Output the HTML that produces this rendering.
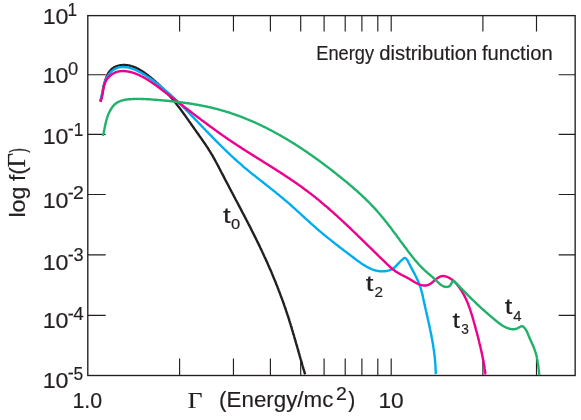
<!DOCTYPE html>
<html><head><meta charset="utf-8"><title>Energy distribution function</title>
<style>html,body{margin:0;padding:0;background:#fff}svg{display:block}</style></head>
<body><svg style="will-change:transform" width="581" height="420" viewBox="0 0 581 420">
<rect width="581" height="420" fill="#fff"/>
<rect x="87.8" y="15.62" width="487.35" height="359.88" fill="none" stroke="#231f20" stroke-width="1.36"/>
<path d="M179.6 15.02V31.52M179.6 376.1V358.6M233.45 15.02V31.52M233.45 376.1V358.6M270.4 15.02V31.52M270.4 376.1V358.6M300.7 15.02V31.52M300.7 376.1V358.6M324.1 15.02V31.52M324.1 376.1V358.6M345.2 15.02V31.52M345.2 376.1V358.6M361.9 15.02V31.52M361.9 376.1V358.6M377.8 15.02V31.52M377.8 376.1V358.6M391.2 15.02V31.52M391.2 376.1V358.6M482.9 15.02V31.52M482.9 376.1V358.6M536.5 15.02V31.52M536.5 376.1V358.6M87.8 74.7H105.69999999999999M575.15 74.7H558.65M87.8 134.3H105.69999999999999M575.15 134.3H558.65M87.8 194.5H105.69999999999999M575.15 194.5H558.65M87.8 254.9H105.69999999999999M575.15 254.9H558.65M87.8 315.3H105.69999999999999M575.15 315.3H558.65" fill="none" stroke="#231f20" stroke-width="1.15"/>
<path d="M100.3 101.4L100.5 100.7L100.7 100.0L101.0 99.4L101.1 98.6L101.3 97.9L101.5 97.2L101.7 96.5L101.8 95.8L102.0 95.0L102.1 94.3L102.3 93.5L102.4 92.8L102.6 92.0L102.7 91.3L102.9 90.5L103.0 89.8L103.1 89.0L103.3 88.2L103.4 87.5L103.6 86.7L103.8 85.9L103.9 85.1L104.1 84.4L104.3 83.6L104.5 82.8L104.7 82.1L104.9 81.3L105.2 80.5L105.4 79.7L105.7 79.0L106.0 78.2L106.2 77.5L106.6 76.7L106.9 76.0L107.2 75.3L107.6 74.6L107.9 73.9L108.3 73.2L108.7 72.6L109.2 72.0L109.6 71.3L110.1 70.8L110.6 70.2L111.1 69.7L111.6 69.2L112.2 68.7L112.7 68.3L113.3 67.9L113.9 67.5L114.5 67.1L115.2 66.8L115.8 66.5L116.5 66.3L117.2 66.0L117.9 65.8L118.6 65.6L119.3 65.5L120.0 65.3L120.7 65.2L121.5 65.1L122.2 65.1L123.0 65.0L123.7 65.0L124.5 65.0L125.2 65.0L126.0 65.1L126.8 65.2L127.5 65.3L128.3 65.4L129.0 65.5L129.8 65.7L130.6 65.9L131.3 66.1L132.1 66.3L132.8 66.5L133.5 66.8L134.2 67.0L135.0 67.3L135.7 67.6L136.4 68.0L137.1 68.3L137.8 68.6L138.5 69.0L139.1 69.4L139.8 69.8L140.5 70.2L141.1 70.6L141.8 71.0L142.5 71.4L143.1 71.8L143.8 72.3L144.4 72.7L145.0 73.2L145.7 73.6L146.3 74.1L146.9 74.6L147.5 75.0L148.2 75.5L148.8 76.0L149.4 76.5L150.0 76.9L150.6 77.4L151.2 77.9L151.8 78.4L152.4 78.9L153.0 79.4L153.5 79.9L154.1 80.4L154.7 80.9L155.3 81.4L155.9 81.9L156.4 82.4L157.0 82.9L157.6 83.4L158.1 83.9L158.7 84.5L159.2 85.0L159.8 85.5L160.3 86.0L160.9 86.6L161.4 87.1L162.0 87.6L162.5 88.2L163.0 88.7L163.6 89.2L164.1 89.8L164.6 90.3L165.1 90.9L165.7 91.4L166.2 92.0L166.7 92.5L167.2 93.1L167.7 93.7L168.2 94.2L168.7 94.8L169.2 95.3L169.7 95.9L170.2 96.5L170.7 97.1L171.2 97.6L171.7 98.2L172.2 98.8L172.7 99.4L173.2 100.0L173.7 100.5L174.1 101.1L174.6 101.7L175.1 102.3L175.6 102.9L176.1 103.5L176.5 104.1L177.0 104.7L177.5 105.3L177.9 105.9L178.4 106.5L178.9 107.1L179.3 107.7L179.8 108.3L180.3 108.9L180.7 109.6L181.2 110.2L181.6 110.8L182.1 111.4L182.5 112.0L183.0 112.6L183.4 113.3L183.9 113.9L184.3 114.5L184.8 115.1L185.2 115.7L185.7 116.4L186.1 117.0L186.6 117.6L187.0 118.2L187.5 118.9L187.9 119.5L188.4 120.1L188.8 120.8L189.2 121.4L189.7 122.0L190.1 122.6L190.6 123.3L191.0 123.9L191.4 124.5L191.9 125.2L192.3 125.8L192.8 126.4L193.2 127.0L193.7 127.7L194.1 128.3L194.5 128.9L195.0 129.5L195.4 130.2L195.9 130.8L196.3 131.4L196.7 132.0L197.2 132.7L197.6 133.3L198.1 133.9L198.5 134.5L199.0 135.2L199.4 135.8L199.8 136.4L200.3 137.0L200.7 137.7L201.2 138.3L201.6 138.9L202.0 139.5L202.5 140.2L202.9 140.8L203.3 141.4L203.8 142.0L204.2 142.7L204.6 143.3L205.1 143.9L205.5 144.5L205.9 145.2L206.3 145.8L206.7 146.4L207.2 147.1L207.6 147.7L208.0 148.4L208.4 149.0L208.8 149.6L209.2 150.3L209.6 150.9L210.0 151.6L210.4 152.2L210.8 152.9L211.2 153.5L211.6 154.2L212.0 154.8L212.4 155.5L212.8 156.1L213.1 156.8L213.5 157.5L213.9 158.1L214.3 158.8L214.6 159.5L215.0 160.1L215.4 160.8L215.7 161.5L216.1 162.2L216.5 162.8L216.8 163.5L217.2 164.2L217.5 164.9L217.9 165.5L218.3 166.2L218.6 166.9L219.0 167.6L219.3 168.3L219.7 168.9L220.0 169.6L220.4 170.3L220.7 171.0L221.1 171.7L221.4 172.3L221.8 173.0L222.1 173.7L222.5 174.4L222.9 175.1L223.2 175.7L223.6 176.4L223.9 177.1L224.3 177.8L224.6 178.5L225.0 179.1L225.3 179.8L225.7 180.5L226.0 181.2L226.4 181.9L226.7 182.5L227.1 183.2L227.5 183.9L227.8 184.6L228.2 185.2L228.5 185.9L228.9 186.6L229.2 187.3L229.6 188.0L230.0 188.6L230.3 189.3L230.7 190.0L231.0 190.7L231.4 191.3L231.7 192.0L232.1 192.7L232.5 193.4L232.8 194.0L233.2 194.7L233.5 195.4L233.9 196.1L234.2 196.8L234.6 197.4L235.0 198.1L235.3 198.8L235.7 199.5L236.0 200.1L236.4 200.8L236.7 201.5L237.1 202.2L237.5 202.8L237.8 203.5L238.2 204.2L238.5 204.9L238.9 205.5L239.2 206.2L239.6 206.9L239.9 207.6L240.3 208.2L240.7 208.9L241.0 209.6L241.4 210.3L241.7 211.0L242.1 211.6L242.4 212.3L242.8 213.0L243.1 213.7L243.5 214.3L243.9 215.0L244.2 215.7L244.6 216.4L244.9 217.0L245.3 217.7L245.6 218.4L246.0 219.1L246.3 219.8L246.7 220.4L247.0 221.1L247.4 221.8L247.7 222.5L248.1 223.2L248.4 223.8L248.8 224.5L249.1 225.2L249.5 225.9L249.8 226.5L250.2 227.2L250.5 227.9L250.9 228.6L251.2 229.3L251.5 230.0L251.9 230.6L252.2 231.3L252.6 232.0L252.9 232.7L253.3 233.4L253.6 234.0L253.9 234.7L254.3 235.4L254.6 236.1L255.0 236.8L255.3 237.5L255.7 238.1L256.0 238.8L256.3 239.5L256.7 240.2L257.0 240.9L257.3 241.6L257.7 242.3L258.0 242.9L258.3 243.6L258.7 244.3L259.0 245.0L259.3 245.7L259.7 246.4L260.0 247.1L260.3 247.8L260.7 248.5L261.0 249.1L261.3 249.8L261.6 250.5L262.0 251.2L262.3 251.9L262.6 252.6L262.9 253.3L263.3 254.0L263.6 254.7L263.9 255.4L264.2 256.1L264.5 256.8L264.9 257.5L265.2 258.1L265.5 258.8L265.8 259.5L266.1 260.2L266.4 260.9L266.8 261.6L267.1 262.3L267.4 263.0L267.7 263.7L268.0 264.4L268.3 265.1L268.6 265.8L268.9 266.5L269.2 267.2L269.5 267.9L269.8 268.6L270.2 269.3L270.5 270.0L270.8 270.7L271.1 271.4L271.4 272.1L271.7 272.8L272.0 273.6L272.3 274.3L272.6 275.0L272.9 275.7L273.1 276.4L273.4 277.1L273.7 277.8L274.0 278.5L274.3 279.2L274.6 279.9L274.9 280.6L275.2 281.3L275.5 282.0L275.8 282.7L276.0 283.5L276.3 284.2L276.6 284.9L276.9 285.6L277.2 286.3L277.5 287.0L277.7 287.7L278.0 288.4L278.3 289.1L278.6 289.9L278.8 290.6L279.1 291.3L279.4 292.0L279.7 292.7L279.9 293.4L280.2 294.1L280.5 294.9L280.7 295.6L281.0 296.3L281.3 297.0L281.5 297.7L281.8 298.4L282.1 299.2L282.3 299.9L282.6 300.6L282.9 301.3L283.1 302.0L283.4 302.8L283.6 303.5L283.9 304.2L284.1 304.9L284.4 305.6L284.6 306.4L284.9 307.1L285.1 307.8L285.4 308.5L285.6 309.3L285.9 310.0L286.1 310.7L286.4 311.4L286.6 312.2L286.9 312.9L287.1 313.6L287.3 314.3L287.6 315.1L287.8 315.8L288.1 316.5L288.3 317.2L288.5 318.0L288.8 318.7L289.0 319.4L289.2 320.1L289.4 320.9L289.7 321.6L289.9 322.3L290.1 323.1L290.4 323.8L290.6 324.5L290.8 325.3L291.0 326.0L291.3 326.7L291.5 327.4L291.7 328.2L291.9 328.9L292.1 329.6L292.4 330.4L292.6 331.1L292.8 331.8L293.0 332.6L293.2 333.3L293.4 334.0L293.7 334.8L293.9 335.5L294.1 336.2L294.3 337.0L294.5 337.7L294.7 338.4L294.9 339.2L295.2 339.9L295.4 340.6L295.6 341.4L295.8 342.1L296.0 342.8L296.2 343.6L296.4 344.3L296.6 345.0L296.9 345.8L297.1 346.5L297.3 347.2L297.5 348.0L297.7 348.7L297.9 349.4L298.1 350.2L298.3 350.9L298.5 351.7L298.7 352.4L299.0 353.1L299.2 353.9L299.4 354.6L299.6 355.3L299.8 356.1L300.0 356.8L300.2 357.5L300.4 358.3L300.6 359.0L300.8 359.7L301.1 360.5L301.3 361.2L301.5 361.9L301.7 362.7L301.9 363.4L302.1 364.1L302.3 364.9L302.5 365.6L302.8 366.3L303.0 367.1L303.2 367.8L303.4 368.6L303.6 369.3L303.8 370.0L304.1 370.8L304.3 371.5L304.5 372.2L304.7 372.9L304.9 373.7L305.2 374.4" fill="none" stroke="#231f20" stroke-width="2.4" stroke-linejoin="round" stroke-linecap="butt"/>
<path d="M100.2 101.6L100.4 100.8L100.7 100.1L100.9 99.3L101.1 98.5L101.3 97.7L101.5 97.0L101.6 96.2L101.8 95.4L102.0 94.7L102.1 93.9L102.2 93.1L102.4 92.3L102.5 91.6L102.7 90.8L102.8 90.1L102.9 89.3L103.1 88.5L103.2 87.8L103.4 87.0L103.6 86.3L103.8 85.5L104.0 84.8L104.2 84.0L104.4 83.3L104.7 82.5L104.9 81.8L105.2 81.0L105.5 80.3L105.9 79.5L106.2 78.8L106.6 78.1L107.0 77.4L107.4 76.7L107.8 76.0L108.2 75.3L108.7 74.7L109.2 74.0L109.7 73.4L110.2 72.8L110.8 72.2L111.3 71.7L111.9 71.1L112.5 70.6L113.1 70.2L113.7 69.7L114.4 69.3L115.0 68.9L115.7 68.6L116.4 68.3L117.1 68.0L117.8 67.7L118.6 67.5L119.3 67.4L120.1 67.2L120.8 67.1L121.6 67.1L122.4 67.0L123.2 67.0L124.0 67.0L124.8 67.1L125.6 67.2L126.4 67.3L127.2 67.4L128.0 67.5L128.8 67.7L129.6 67.9L130.4 68.1L131.1 68.3L131.9 68.6L132.7 68.8L133.4 69.1L134.2 69.4L134.9 69.7L135.7 70.0L136.4 70.3L137.1 70.7L137.8 71.0L138.5 71.4L139.2 71.8L139.9 72.1L140.6 72.5L141.3 72.9L142.0 73.3L142.6 73.7L143.3 74.1L144.0 74.5L144.7 74.9L145.3 75.3L146.0 75.8L146.7 76.2L147.3 76.6L148.0 77.0L148.6 77.5L149.3 77.9L149.9 78.4L150.6 78.8L151.2 79.2L151.9 79.7L152.5 80.1L153.1 80.6L153.8 81.1L154.4 81.5L155.0 82.0L155.7 82.4L156.3 82.9L156.9 83.4L157.5 83.9L158.1 84.3L158.8 84.8L159.4 85.3L160.0 85.8L160.6 86.3L161.2 86.8L161.8 87.3L162.4 87.8L163.0 88.3L163.6 88.8L164.2 89.3L164.8 89.8L165.4 90.3L166.0 90.8L166.6 91.3L167.2 91.8L167.8 92.4L168.4 92.9L169.0 93.4L169.5 93.9L170.1 94.5L170.7 95.0L171.3 95.5L171.9 96.1L172.4 96.6L173.0 97.1L173.6 97.7L174.2 98.2L174.7 98.7L175.3 99.3L175.9 99.8L176.4 100.4L177.0 100.9L177.6 101.5L178.1 102.0L178.7 102.6L179.3 103.1L179.8 103.7L180.4 104.2L180.9 104.8L181.5 105.3L182.1 105.9L182.6 106.4L183.2 107.0L183.7 107.6L184.3 108.1L184.8 108.7L185.4 109.2L185.9 109.8L186.5 110.4L187.0 110.9L187.6 111.5L188.1 112.1L188.7 112.6L189.3 113.2L189.8 113.8L190.3 114.3L190.9 114.9L191.4 115.5L192.0 116.0L192.5 116.6L193.1 117.2L193.6 117.7L194.2 118.3L194.7 118.9L195.3 119.4L195.8 120.0L196.4 120.6L196.9 121.2L197.5 121.7L198.0 122.3L198.6 122.9L199.1 123.4L199.7 124.0L200.2 124.6L200.8 125.1L201.3 125.7L201.9 126.3L202.4 126.8L202.9 127.4L203.5 128.0L204.0 128.6L204.6 129.1L205.1 129.7L205.7 130.3L206.2 130.8L206.8 131.4L207.3 132.0L207.9 132.5L208.4 133.1L209.0 133.7L209.5 134.2L210.1 134.8L210.6 135.4L211.2 135.9L211.7 136.5L212.3 137.0L212.8 137.6L213.4 138.2L213.9 138.7L214.5 139.3L215.0 139.9L215.6 140.4L216.1 141.0L216.7 141.5L217.3 142.1L217.8 142.6L218.4 143.2L218.9 143.8L219.5 144.3L220.0 144.9L220.6 145.4L221.2 146.0L221.7 146.5L222.3 147.1L222.8 147.6L223.4 148.2L224.0 148.7L224.5 149.3L225.1 149.8L225.7 150.4L226.2 150.9L226.8 151.5L227.4 152.0L227.9 152.6L228.5 153.1L229.1 153.6L229.6 154.2L230.2 154.7L230.8 155.3L231.4 155.8L231.9 156.3L232.5 156.9L233.1 157.4L233.7 157.9L234.2 158.5L234.8 159.0L235.4 159.5L236.0 160.0L236.6 160.6L237.1 161.1L237.7 161.6L238.3 162.1L238.9 162.7L239.5 163.2L240.1 163.7L240.7 164.2L241.3 164.7L241.9 165.2L242.5 165.8L243.1 166.3L243.6 166.8L244.2 167.3L244.8 167.8L245.4 168.3L246.0 168.8L246.7 169.3L247.3 169.8L247.9 170.3L248.5 170.8L249.1 171.3L249.7 171.8L250.3 172.3L250.9 172.8L251.5 173.3L252.1 173.8L252.7 174.3L253.3 174.7L254.0 175.2L254.6 175.7L255.2 176.2L255.8 176.7L256.4 177.2L257.0 177.7L257.7 178.2L258.3 178.6L258.9 179.1L259.5 179.6L260.1 180.1L260.7 180.6L261.4 181.1L262.0 181.6L262.6 182.0L263.2 182.5L263.8 183.0L264.5 183.5L265.1 184.0L265.7 184.5L266.3 184.9L266.9 185.4L267.6 185.9L268.2 186.4L268.8 186.9L269.4 187.4L270.0 187.9L270.7 188.4L271.3 188.8L271.9 189.3L272.5 189.8L273.1 190.3L273.7 190.8L274.4 191.3L275.0 191.8L275.6 192.3L276.2 192.8L276.8 193.3L277.4 193.8L278.0 194.3L278.7 194.8L279.3 195.3L279.9 195.8L280.5 196.3L281.1 196.8L281.7 197.3L282.3 197.8L282.9 198.3L283.5 198.8L284.1 199.3L284.7 199.8L285.3 200.3L285.9 200.8L286.5 201.3L287.1 201.9L287.7 202.4L288.3 202.9L288.9 203.4L289.5 203.9L290.1 204.5L290.7 205.0L291.3 205.5L291.9 206.0L292.5 206.6L293.0 207.1L293.6 207.6L294.2 208.2L294.8 208.7L295.4 209.2L296.0 209.8L296.6 210.3L297.1 210.8L297.7 211.3L298.3 211.9L298.9 212.4L299.5 212.9L300.1 213.5L300.6 214.0L301.2 214.6L301.8 215.1L302.4 215.6L303.0 216.2L303.6 216.7L304.1 217.2L304.7 217.8L305.3 218.3L305.9 218.8L306.5 219.4L307.1 219.9L307.6 220.4L308.2 220.9L308.8 221.5L309.4 222.0L310.0 222.5L310.6 223.1L311.1 223.6L311.7 224.1L312.3 224.6L312.9 225.1L313.5 225.7L314.1 226.2L314.7 226.7L315.2 227.2L315.8 227.7L316.4 228.3L317.0 228.8L317.6 229.3L318.2 229.8L318.8 230.3L319.4 230.8L320.0 231.3L320.6 231.8L321.2 232.3L321.8 232.8L322.4 233.3L323.0 233.8L323.6 234.3L324.2 234.8L324.8 235.3L325.4 235.8L326.0 236.3L326.6 236.8L327.2 237.3L327.8 237.8L328.4 238.3L329.0 238.7L329.6 239.2L330.2 239.7L330.8 240.2L331.4 240.7L332.0 241.2L332.6 241.7L333.2 242.1L333.9 242.6L334.5 243.1L335.1 243.6L335.7 244.1L336.3 244.6L336.9 245.0L337.6 245.5L338.2 246.0L338.8 246.5L339.4 247.0L340.0 247.4L340.7 247.9L341.3 248.4L341.9 248.9L342.5 249.3L343.2 249.8L343.8 250.3L344.4 250.8L345.0 251.3L345.7 251.7L346.3 252.2L346.9 252.7L347.6 253.2L348.2 253.7L348.8 254.1L349.5 254.6L350.1 255.1L350.8 255.6L351.4 256.1L352.0 256.5L352.7 257.0L353.3 257.5L354.0 258.0L354.6 258.5L355.3 259.0L355.9 259.4L356.6 259.9L357.2 260.4L357.9 260.9L358.5 261.4L359.2 261.8L359.8 262.3L360.5 262.8L361.1 263.2L361.8 263.7L362.5 264.1L363.1 264.6L363.8 265.0L364.5 265.4L365.2 265.8L365.9 266.2L366.5 266.6L367.2 267.0L367.9 267.4L368.6 267.7L369.3 268.1L370.0 268.4L370.7 268.7L371.4 269.0L372.1 269.3L372.9 269.6L373.6 269.9L374.3 270.1L375.0 270.3L375.8 270.5L376.5 270.7L377.3 270.9L378.0 271.0L378.8 271.1L379.5 271.2L380.3 271.3L381.1 271.3L381.9 271.4L382.6 271.4L383.4 271.3L384.2 271.3L385.0 271.2L385.8 271.1L386.6 271.0L387.4 270.8L388.1 270.6L388.9 270.4L389.7 270.1L390.4 269.9L391.1 269.6L391.8 269.2L392.5 268.8L393.2 268.4L393.9 268.0L394.5 267.5L395.1 267.0L395.7 266.4L396.2 265.8L396.8 265.2L397.3 264.6L397.8 264.0L398.3 263.4L398.9 262.9L399.4 262.3L400.0 261.8L400.5 261.2L401.1 260.7L401.7 260.2L402.3 259.6L402.9 259.1L403.5 258.6L404.2 258.1L404.8 258.0L405.5 258.2L406.2 258.7L406.7 259.4L407.2 260.0L407.6 260.7L408.0 261.4L408.4 262.1L408.7 262.8L409.1 263.5L409.4 264.2L409.8 264.9L410.2 265.6L410.5 266.3L410.9 267.0L411.3 267.7L411.6 268.4L412.0 269.1L412.4 269.8L412.7 270.4L413.1 271.1L413.5 271.8L413.9 272.5L414.2 273.2L414.6 273.9L415.0 274.6L415.3 275.3L415.7 276.0L416.0 276.7L416.4 277.4L416.7 278.2L417.0 278.9L417.4 279.6L417.7 280.3L418.0 281.0L418.3 281.7L418.6 282.5L418.9 283.2L419.2 283.9L419.5 284.6L419.8 285.4L420.0 286.1L420.3 286.9L420.5 287.6L420.8 288.4L421.0 289.1L421.2 289.9L421.4 290.6L421.6 291.4L421.8 292.1L422.0 292.9L422.2 293.6L422.4 294.4L422.5 295.2L422.7 295.9L422.9 296.7L423.0 297.5L423.2 298.2L423.4 299.0L423.5 299.8L423.7 300.5L423.9 301.3L424.0 302.1L424.2 302.8L424.4 303.6L424.6 304.4L424.7 305.1L424.9 305.9L425.1 306.7L425.2 307.5L425.4 308.2L425.6 309.0L425.8 309.8L425.9 310.5L426.1 311.3L426.3 312.1L426.5 312.8L426.6 313.6L426.8 314.4L427.0 315.1L427.2 315.9L427.3 316.7L427.5 317.4L427.7 318.2L427.8 319.0L428.0 319.7L428.2 320.5L428.4 321.3L428.5 322.0L428.7 322.8L428.9 323.6L429.0 324.4L429.2 325.1L429.4 325.9L429.5 326.7L429.7 327.4L429.9 328.2L430.0 329.0L430.2 329.7L430.3 330.5L430.5 331.3L430.7 332.1L430.8 332.8L431.0 333.6L431.1 334.4L431.3 335.1L431.4 335.9L431.6 336.7L431.7 337.5L431.9 338.2L432.0 339.0L432.1 339.8L432.3 340.6L432.4 341.3L432.6 342.1L432.7 342.9L432.8 343.7L433.0 344.4L433.1 345.2L433.2 346.0L433.3 346.8L433.4 347.5L433.6 348.3L433.7 349.1L433.8 349.9L433.9 350.6L434.0 351.4L434.1 352.2L434.2 353.0L434.3 353.8L434.4 354.5L434.5 355.3L434.6 356.1L434.7 356.9L434.8 357.7L434.9 358.5L434.9 359.2L435.0 360.0L435.1 360.8L435.1 361.6L435.2 362.4L435.3 363.2L435.3 363.9L435.4 364.7L435.4 365.5L435.5 366.3L435.5 367.1L435.6 367.9L435.6 368.7L435.6 369.5L435.7 370.3L435.7 371.0L435.7 371.8L435.7 372.6L435.7 373.4L435.8 374.2" fill="none" stroke="#00aeef" stroke-width="2.4" stroke-linejoin="round" stroke-linecap="butt"/>
<path d="M100.4 101.7L100.7 101.0L101.0 100.3L101.2 99.5L101.5 98.8L101.7 98.0L101.9 97.2L102.0 96.5L102.2 95.7L102.4 94.9L102.5 94.1L102.6 93.3L102.8 92.4L102.9 91.6L103.0 90.8L103.2 90.0L103.3 89.2L103.5 88.4L103.6 87.6L103.8 86.8L104.0 86.0L104.2 85.2L104.5 84.5L104.7 83.7L105.0 82.9L105.3 82.2L105.6 81.5L106.0 80.8L106.4 80.1L106.9 79.4L107.3 78.8L107.8 78.1L108.3 77.5L108.9 76.9L109.5 76.4L110.0 75.8L110.7 75.3L111.3 74.8L111.9 74.3L112.6 73.9L113.3 73.5L114.0 73.1L114.7 72.8L115.4 72.4L116.2 72.1L116.9 71.9L117.7 71.7L118.4 71.5L119.2 71.3L120.0 71.2L120.7 71.1L121.5 71.1L122.3 71.0L123.1 71.0L123.9 71.0L124.7 71.1L125.5 71.2L126.3 71.3L127.1 71.4L127.9 71.5L128.7 71.7L129.5 71.8L130.3 72.0L131.1 72.2L131.9 72.5L132.7 72.7L133.5 72.9L134.3 73.2L135.0 73.5L135.8 73.7L136.5 74.0L137.3 74.3L138.0 74.7L138.8 75.0L139.5 75.3L140.2 75.6L140.9 76.0L141.7 76.4L142.4 76.7L143.1 77.1L143.8 77.5L144.5 77.9L145.2 78.3L145.9 78.7L146.6 79.1L147.2 79.5L147.9 79.9L148.6 80.3L149.3 80.8L149.9 81.2L150.6 81.6L151.3 82.1L151.9 82.5L152.6 83.0L153.2 83.5L153.9 83.9L154.5 84.4L155.2 84.8L155.8 85.3L156.5 85.8L157.1 86.3L157.8 86.7L158.4 87.2L159.1 87.7L159.7 88.2L160.3 88.7L161.0 89.1L161.6 89.6L162.3 90.1L162.9 90.6L163.5 91.1L164.2 91.5L164.8 92.0L165.5 92.5L166.1 93.0L166.7 93.5L167.4 94.0L168.0 94.4L168.7 94.9L169.3 95.4L169.9 95.9L170.6 96.4L171.2 96.9L171.8 97.4L172.5 97.8L173.1 98.3L173.8 98.8L174.4 99.3L175.0 99.8L175.7 100.3L176.3 100.8L176.9 101.3L177.6 101.7L178.2 102.2L178.8 102.7L179.5 103.2L180.1 103.7L180.8 104.2L181.4 104.7L182.0 105.1L182.7 105.6L183.3 106.1L183.9 106.6L184.6 107.1L185.2 107.6L185.8 108.1L186.5 108.6L187.1 109.0L187.8 109.5L188.4 110.0L189.0 110.5L189.7 111.0L190.3 111.5L190.9 112.0L191.6 112.4L192.2 112.9L192.9 113.4L193.5 113.9L194.1 114.4L194.8 114.9L195.4 115.4L196.0 115.8L196.7 116.3L197.3 116.8L198.0 117.3L198.6 117.8L199.2 118.3L199.9 118.7L200.5 119.2L201.2 119.7L201.8 120.2L202.5 120.7L203.1 121.1L203.7 121.6L204.4 122.1L205.0 122.6L205.7 123.1L206.3 123.5L207.0 124.0L207.6 124.5L208.2 125.0L208.9 125.4L209.5 125.9L210.2 126.4L210.8 126.9L211.5 127.3L212.1 127.8L212.8 128.3L213.4 128.7L214.1 129.2L214.7 129.7L215.4 130.2L216.0 130.6L216.7 131.1L217.3 131.6L218.0 132.0L218.6 132.5L219.3 133.0L219.9 133.4L220.6 133.9L221.2 134.3L221.9 134.8L222.5 135.3L223.2 135.7L223.9 136.2L224.5 136.6L225.2 137.1L225.8 137.6L226.5 138.0L227.1 138.5L227.8 138.9L228.5 139.4L229.1 139.8L229.8 140.3L230.5 140.7L231.1 141.2L231.8 141.6L232.5 142.1L233.1 142.5L233.8 143.0L234.5 143.4L235.1 143.8L235.8 144.3L236.5 144.7L237.1 145.2L237.8 145.6L238.5 146.0L239.2 146.5L239.8 146.9L240.5 147.3L241.2 147.8L241.8 148.2L242.5 148.7L243.2 149.1L243.9 149.5L244.6 150.0L245.2 150.4L245.9 150.8L246.6 151.2L247.3 151.7L247.9 152.1L248.6 152.5L249.3 153.0L250.0 153.4L250.7 153.8L251.3 154.3L252.0 154.7L252.7 155.1L253.4 155.5L254.0 156.0L254.7 156.4L255.4 156.8L256.1 157.2L256.8 157.7L257.5 158.1L258.1 158.5L258.8 158.9L259.5 159.4L260.2 159.8L260.9 160.2L261.5 160.6L262.2 161.1L262.9 161.5L263.6 161.9L264.3 162.4L264.9 162.8L265.6 163.2L266.3 163.6L267.0 164.1L267.7 164.5L268.3 164.9L269.0 165.3L269.7 165.8L270.4 166.2L271.1 166.6L271.7 167.0L272.4 167.5L273.1 167.9L273.8 168.3L274.4 168.8L275.1 169.2L275.8 169.6L276.5 170.1L277.2 170.5L277.8 170.9L278.5 171.4L279.2 171.8L279.9 172.2L280.5 172.7L281.2 173.1L281.9 173.5L282.5 174.0L283.2 174.4L283.9 174.8L284.6 175.3L285.2 175.7L285.9 176.2L286.6 176.6L287.2 177.0L287.9 177.5L288.6 177.9L289.2 178.4L289.9 178.8L290.6 179.3L291.2 179.7L291.9 180.2L292.5 180.6L293.2 181.1L293.9 181.5L294.5 182.0L295.2 182.4L295.8 182.9L296.5 183.3L297.2 183.8L297.8 184.3L298.5 184.7L299.1 185.2L299.8 185.6L300.4 186.1L301.1 186.6L301.7 187.0L302.4 187.5L303.0 188.0L303.7 188.5L304.3 188.9L304.9 189.4L305.6 189.9L306.2 190.4L306.9 190.8L307.5 191.3L308.1 191.8L308.8 192.3L309.4 192.8L310.0 193.3L310.7 193.7L311.3 194.2L311.9 194.7L312.6 195.2L313.2 195.7L313.8 196.2L314.5 196.7L315.1 197.2L315.7 197.7L316.3 198.2L316.9 198.7L317.6 199.2L318.2 199.7L318.8 200.2L319.4 200.7L320.0 201.2L320.7 201.7L321.3 202.3L321.9 202.8L322.5 203.3L323.1 203.8L323.7 204.3L324.3 204.8L324.9 205.4L325.6 205.9L326.2 206.4L326.8 206.9L327.4 207.4L328.0 208.0L328.6 208.5L329.2 209.0L329.8 209.5L330.4 210.1L331.0 210.6L331.6 211.1L332.2 211.7L332.8 212.2L333.4 212.7L334.0 213.3L334.6 213.8L335.2 214.3L335.8 214.9L336.4 215.4L337.0 215.9L337.6 216.5L338.1 217.0L338.7 217.6L339.3 218.1L339.9 218.7L340.5 219.2L341.1 219.7L341.7 220.3L342.3 220.8L342.9 221.4L343.5 221.9L344.0 222.5L344.6 223.0L345.2 223.6L345.8 224.1L346.4 224.7L347.0 225.2L347.6 225.8L348.1 226.3L348.7 226.9L349.3 227.4L349.9 228.0L350.5 228.5L351.0 229.1L351.6 229.6L352.2 230.2L352.8 230.8L353.4 231.3L353.9 231.9L354.5 232.4L355.1 233.0L355.7 233.5L356.3 234.1L356.8 234.7L357.4 235.2L358.0 235.8L358.6 236.3L359.1 236.9L359.7 237.5L360.3 238.0L360.9 238.6L361.4 239.1L362.0 239.7L362.6 240.3L363.2 240.8L363.7 241.4L364.3 241.9L364.9 242.5L365.5 243.1L366.0 243.6L366.6 244.2L367.2 244.8L367.8 245.3L368.3 245.9L368.9 246.4L369.5 247.0L370.1 247.6L370.6 248.1L371.2 248.7L371.8 249.2L372.4 249.8L372.9 250.4L373.5 250.9L374.1 251.5L374.7 252.1L375.2 252.6L375.8 253.2L376.4 253.7L377.0 254.3L377.5 254.9L378.1 255.4L378.7 256.0L379.2 256.5L379.8 257.1L380.4 257.7L381.0 258.2L381.5 258.8L382.1 259.3L382.7 259.9L383.3 260.4L383.9 261.0L384.4 261.6L385.0 262.1L385.6 262.7L386.2 263.2L386.7 263.8L387.3 264.3L387.9 264.9L388.5 265.4L389.0 266.0L389.6 266.5L390.2 267.1L390.8 267.6L391.4 268.1L392.0 268.7L392.6 269.2L393.2 269.7L393.8 270.1L394.5 270.6L395.1 271.1L395.8 271.5L396.4 271.9L397.1 272.3L397.8 272.7L398.4 273.1L399.1 273.5L399.8 273.9L400.5 274.3L401.2 274.6L401.9 275.0L402.7 275.4L403.4 275.7L404.1 276.1L404.8 276.5L405.5 276.8L406.3 277.2L407.0 277.6L407.7 278.0L408.4 278.4L409.2 278.8L409.9 279.3L410.6 279.7L411.3 280.1L412.0 280.6L412.8 281.0L413.5 281.5L414.2 281.9L414.9 282.3L415.7 282.7L416.4 283.1L417.1 283.4L417.9 283.8L418.6 284.1L419.3 284.4L420.1 284.7L420.8 284.9L421.6 285.1L422.3 285.3L423.1 285.4L423.8 285.5L424.5 285.5L425.3 285.5L426.0 285.5L426.7 285.3L427.4 285.2L428.1 285.0L428.8 284.7L429.5 284.3L430.2 283.9L430.8 283.5L431.5 283.0L432.1 282.5L432.8 281.9L433.4 281.4L434.0 280.8L434.7 280.2L435.3 279.7L436.0 279.2L436.7 278.7L437.3 278.2L438.0 277.8L438.7 277.4L439.4 277.0L440.1 276.7L440.8 276.4L441.5 276.2L442.3 276.1L443.0 276.0L443.7 276.0L444.5 276.1L445.2 276.3L445.9 276.5L446.7 276.7L447.4 277.0L448.1 277.3L448.8 277.6L449.5 278.0L450.2 278.4L450.9 278.9L451.5 279.3L452.1 279.8L452.8 280.3L453.4 280.8L454.0 281.3L454.6 281.9L455.2 282.5L455.7 283.0L456.3 283.6L456.8 284.3L457.4 284.9L457.9 285.5L458.4 286.2L458.9 286.9L459.4 287.5L459.8 288.2L460.3 288.9L460.8 289.6L461.2 290.3L461.7 291.0L462.1 291.7L462.5 292.4L462.9 293.1L463.3 293.8L463.7 294.5L464.1 295.2L464.4 295.9L464.8 296.7L465.2 297.4L465.5 298.1L465.9 298.8L466.2 299.5L466.5 300.3L466.8 301.0L467.2 301.7L467.5 302.5L467.8 303.2L468.1 303.9L468.3 304.7L468.6 305.4L468.9 306.1L469.2 306.9L469.5 307.6L469.7 308.4L470.0 309.1L470.2 309.9L470.5 310.6L470.7 311.4L471.0 312.1L471.2 312.9L471.4 313.6L471.7 314.4L471.9 315.2L472.1 315.9L472.4 316.7L472.6 317.4L472.8 318.2L473.0 319.0L473.3 319.7L473.5 320.5L473.7 321.3L473.9 322.0L474.1 322.8L474.3 323.6L474.6 324.3L474.8 325.1L475.0 325.9L475.2 326.7L475.4 327.4L475.6 328.2L475.8 329.0L476.0 329.8L476.2 330.5L476.5 331.3L476.7 332.1L476.9 332.9L477.1 333.6L477.3 334.4L477.5 335.2L477.7 336.0L477.9 336.8L478.1 337.5L478.3 338.3L478.5 339.1L478.7 339.9L478.9 340.7L479.1 341.5L479.3 342.2L479.4 343.0L479.6 343.8L479.8 344.6L480.0 345.4L480.2 346.2L480.4 346.9L480.6 347.7L480.7 348.5L480.9 349.3L481.1 350.1L481.3 350.9L481.4 351.7L481.6 352.4L481.8 353.2L482.0 354.0L482.1 354.8L482.3 355.6L482.4 356.4L482.6 357.2L482.8 358.0L482.9 358.8L483.1 359.5L483.2 360.3L483.4 361.1L483.5 361.9L483.7 362.7L483.8 363.5L483.9 364.3L484.1 365.1L484.2 365.8L484.4 366.6L484.5 367.4L484.6 368.2L484.7 369.0L484.9 369.8L485.0 370.6L485.1 371.4L485.2 372.1L485.3 372.9L485.4 373.7L485.6 374.5" fill="none" stroke="#ec008c" stroke-width="2.4" stroke-linejoin="round" stroke-linecap="butt"/>
<path d="M102.9 135.8L103.1 135.1L103.2 134.5L103.4 133.8L103.5 133.2L103.7 132.5L103.8 131.9L104.0 131.2L104.1 130.6L104.2 129.9L104.4 129.3L104.5 128.7L104.6 128.1L104.7 127.4L104.9 126.8L105.0 126.2L105.1 125.6L105.3 124.9L105.4 124.3L105.5 123.7L105.7 123.1L105.8 122.5L106.0 121.9L106.1 121.2L106.3 120.6L106.5 120.0L106.6 119.4L106.8 118.8L107.0 118.1L107.2 117.5L107.4 116.9L107.6 116.3L107.9 115.6L108.1 115.0L108.3 114.4L108.6 113.8L108.9 113.1L109.2 112.5L109.5 111.9L109.8 111.3L110.1 110.7L110.4 110.1L110.7 109.5L111.1 108.9L111.5 108.4L111.8 107.8L112.2 107.3L112.6 106.7L113.0 106.2L113.5 105.7L113.9 105.2L114.4 104.8L114.8 104.3L115.3 103.9L115.8 103.5L116.3 103.1L116.8 102.8L117.4 102.4L117.9 102.1L118.5 101.8L119.0 101.6L119.6 101.3L120.2 101.1L120.8 100.8L121.4 100.6L122.0 100.5L122.6 100.3L123.3 100.1L123.9 100.0L124.6 99.9L125.2 99.7L125.9 99.6L126.5 99.5L127.2 99.5L127.8 99.4L128.5 99.3L129.2 99.3L129.8 99.2L130.5 99.2L131.1 99.1L131.8 99.1L132.5 99.0L133.1 99.0L133.8 99.0L134.5 99.0L135.1 98.9L135.8 98.9L136.4 98.9L137.1 98.9L137.7 98.9L138.4 98.9L139.1 98.9L139.7 98.9L140.4 98.9L141.0 99.0L141.7 99.0L142.3 99.0L143.0 99.0L143.6 99.0L144.3 99.1L144.9 99.1L145.6 99.1L146.2 99.1L146.9 99.2L147.5 99.2L148.2 99.3L148.8 99.3L149.5 99.3L150.1 99.4L150.8 99.4L151.4 99.5L152.1 99.5L152.7 99.6L153.4 99.6L154.0 99.7L154.6 99.7L155.3 99.8L155.9 99.8L156.6 99.9L157.2 99.9L157.9 100.0L158.5 100.0L159.2 100.1L159.8 100.1L160.5 100.2L161.1 100.2L161.8 100.3L162.4 100.4L163.1 100.4L163.7 100.5L164.4 100.5L165.0 100.6L165.7 100.7L166.3 100.7L167.0 100.8L167.6 100.8L168.3 100.9L168.9 101.0L169.6 101.0L170.2 101.1L170.9 101.2L171.5 101.2L172.2 101.3L172.8 101.4L173.5 101.4L174.1 101.5L174.8 101.6L175.4 101.7L176.1 101.7L176.7 101.8L177.4 101.9L178.0 102.0L178.7 102.0L179.3 102.1L179.9 102.2L180.6 102.3L181.2 102.4L181.9 102.5L182.5 102.5L183.2 102.6L183.8 102.7L184.5 102.8L185.1 102.9L185.8 103.0L186.4 103.1L187.1 103.2L187.7 103.2L188.4 103.3L189.0 103.4L189.7 103.5L190.3 103.6L190.9 103.7L191.6 103.8L192.2 103.9L192.9 104.0L193.5 104.1L194.2 104.3L194.8 104.4L195.5 104.5L196.1 104.6L196.7 104.7L197.4 104.8L198.0 104.9L198.7 105.0L199.3 105.2L200.0 105.3L200.6 105.4L201.2 105.5L201.9 105.6L202.5 105.8L203.2 105.9L203.8 106.0L204.4 106.1L205.1 106.3L205.7 106.4L206.4 106.5L207.0 106.7L207.6 106.8L208.3 107.0L208.9 107.1L209.5 107.2L210.2 107.4L210.8 107.5L211.5 107.7L212.1 107.8L212.7 108.0L213.4 108.1L214.0 108.3L214.6 108.4L215.3 108.6L215.9 108.8L216.5 108.9L217.2 109.1L217.8 109.2L218.4 109.4L219.0 109.6L219.7 109.8L220.3 109.9L220.9 110.1L221.6 110.3L222.2 110.5L222.8 110.6L223.4 110.8L224.1 111.0L224.7 111.2L225.3 111.4L225.9 111.6L226.6 111.8L227.2 112.0L227.8 112.2L228.4 112.3L229.1 112.5L229.7 112.7L230.3 113.0L230.9 113.2L231.5 113.4L232.2 113.6L232.8 113.8L233.4 114.0L234.0 114.2L234.6 114.4L235.2 114.6L235.9 114.9L236.5 115.1L237.1 115.3L237.7 115.5L238.3 115.7L238.9 116.0L239.5 116.2L240.2 116.4L240.8 116.7L241.4 116.9L242.0 117.1L242.6 117.4L243.2 117.6L243.8 117.8L244.4 118.1L245.0 118.3L245.6 118.6L246.2 118.8L246.8 119.1L247.5 119.3L248.1 119.6L248.7 119.8L249.3 120.1L249.9 120.3L250.5 120.6L251.1 120.8L251.7 121.1L252.3 121.4L252.9 121.6L253.5 121.9L254.1 122.1L254.7 122.4L255.3 122.7L255.9 122.9L256.4 123.2L257.0 123.5L257.6 123.8L258.2 124.0L258.8 124.3L259.4 124.6L260.0 124.9L260.6 125.2L261.2 125.4L261.8 125.7L262.4 126.0L262.9 126.3L263.5 126.6L264.1 126.9L264.7 127.1L265.3 127.4L265.9 127.7L266.5 128.0L267.0 128.3L267.6 128.6L268.2 128.9L268.8 129.2L269.4 129.5L269.9 129.8L270.5 130.1L271.1 130.4L271.7 130.7L272.3 131.0L272.8 131.3L273.4 131.6L274.0 131.9L274.6 132.3L275.1 132.6L275.7 132.9L276.3 133.2L276.8 133.5L277.4 133.8L278.0 134.1L278.6 134.5L279.1 134.8L279.7 135.1L280.3 135.4L280.8 135.7L281.4 136.1L282.0 136.4L282.5 136.7L283.1 137.0L283.7 137.4L284.2 137.7L284.8 138.0L285.3 138.3L285.9 138.7L286.5 139.0L287.0 139.3L287.6 139.7L288.1 140.0L288.7 140.4L289.3 140.7L289.8 141.0L290.4 141.4L290.9 141.7L291.5 142.1L292.0 142.4L292.6 142.7L293.1 143.1L293.7 143.4L294.2 143.8L294.8 144.1L295.4 144.5L295.9 144.8L296.5 145.2L297.0 145.5L297.5 145.9L298.1 146.2L298.6 146.6L299.2 146.9L299.7 147.3L300.3 147.7L300.8 148.0L301.4 148.4L301.9 148.7L302.5 149.1L303.0 149.5L303.5 149.8L304.1 150.2L304.6 150.5L305.2 150.9L305.7 151.3L306.3 151.6L306.8 152.0L307.3 152.4L307.9 152.7L308.4 153.1L308.9 153.5L309.5 153.9L310.0 154.2L310.5 154.6L311.1 155.0L311.6 155.4L312.2 155.7L312.7 156.1L313.2 156.5L313.8 156.9L314.3 157.2L314.8 157.6L315.3 158.0L315.9 158.4L316.4 158.8L316.9 159.1L317.5 159.5L318.0 159.9L318.5 160.3L319.0 160.7L319.6 161.1L320.1 161.5L320.6 161.8L321.2 162.2L321.7 162.6L322.2 163.0L322.7 163.4L323.3 163.8L323.8 164.2L324.3 164.6L324.8 165.0L325.3 165.4L325.9 165.8L326.4 166.1L326.9 166.5L327.4 166.9L327.9 167.3L328.5 167.7L329.0 168.1L329.5 168.5L330.0 168.9L330.5 169.3L331.1 169.7L331.6 170.1L332.1 170.5L332.6 170.9L333.1 171.3L333.6 171.7L334.1 172.1L334.7 172.5L335.2 173.0L335.7 173.4L336.2 173.8L336.7 174.2L337.2 174.6L337.7 175.0L338.2 175.4L338.8 175.8L339.3 176.2L339.8 176.6L340.3 177.0L340.8 177.4L341.3 177.8L341.8 178.3L342.3 178.7L342.8 179.1L343.3 179.5L343.8 179.9L344.3 180.3L344.8 180.7L345.4 181.2L345.9 181.6L346.4 182.0L346.9 182.4L347.4 182.8L347.9 183.2L348.4 183.7L348.9 184.1L349.4 184.5L349.9 184.9L350.4 185.4L350.9 185.8L351.4 186.2L351.9 186.6L352.4 187.0L352.8 187.5L353.3 187.9L353.8 188.3L354.3 188.8L354.8 189.2L355.3 189.6L355.8 190.0L356.3 190.5L356.8 190.9L357.3 191.3L357.7 191.8L358.2 192.2L358.7 192.7L359.2 193.1L359.7 193.5L360.2 194.0L360.6 194.4L361.1 194.9L361.6 195.3L362.1 195.7L362.6 196.2L363.0 196.6L363.5 197.1L364.0 197.5L364.4 198.0L364.9 198.4L365.4 198.9L365.8 199.3L366.3 199.8L366.8 200.3L367.2 200.7L367.7 201.2L368.2 201.6L368.6 202.1L369.1 202.5L369.5 203.0L370.0 203.5L370.5 203.9L370.9 204.4L371.4 204.9L371.8 205.3L372.3 205.8L372.7 206.3L373.1 206.8L373.6 207.2L374.0 207.7L374.5 208.2L374.9 208.7L375.4 209.2L375.8 209.6L376.2 210.1L376.7 210.6L377.1 211.1L377.5 211.6L377.9 212.1L378.4 212.6L378.8 213.1L379.2 213.5L379.6 214.0L380.1 214.5L380.5 215.0L380.9 215.5L381.3 216.0L381.7 216.5L382.2 217.0L382.6 217.5L383.0 218.0L383.4 218.5L383.8 219.1L384.2 219.6L384.6 220.1L385.0 220.6L385.4 221.1L385.9 221.6L386.3 222.1L386.7 222.6L387.1 223.1L387.5 223.6L387.9 224.2L388.3 224.7L388.7 225.2L389.1 225.7L389.5 226.2L389.9 226.7L390.3 227.3L390.7 227.8L391.1 228.3L391.5 228.8L391.9 229.3L392.2 229.9L392.6 230.4L393.0 230.9L393.4 231.4L393.8 232.0L394.2 232.5L394.6 233.0L395.0 233.5L395.4 234.1L395.8 234.6L396.2 235.1L396.6 235.6L396.9 236.2L397.3 236.7L397.7 237.2L398.1 237.7L398.5 238.3L398.9 238.8L399.3 239.3L399.7 239.9L400.1 240.4L400.4 240.9L400.8 241.4L401.2 242.0L401.6 242.5L402.0 243.0L402.4 243.5L402.8 244.1L403.2 244.6L403.6 245.1L403.9 245.7L404.3 246.2L404.7 246.7L405.1 247.2L405.5 247.8L405.9 248.3L406.3 248.8L406.7 249.3L407.1 249.9L407.5 250.4L407.9 250.9L408.2 251.4L408.6 252.0L409.0 252.5L409.4 253.0L409.8 253.5L410.2 254.0L410.6 254.6L411.0 255.1L411.4 255.6L411.8 256.1L412.2 256.6L412.6 257.1L413.1 257.6L413.5 258.1L413.9 258.7L414.3 259.2L414.7 259.7L415.1 260.2L415.5 260.7L416.0 261.2L416.4 261.6L416.8 262.1L417.2 262.6L417.7 263.1L418.1 263.6L418.5 264.1L419.0 264.6L419.4 265.0L419.8 265.5L420.3 266.0L420.7 266.4L421.2 266.9L421.6 267.4L422.1 267.8L422.5 268.3L423.0 268.7L423.5 269.2L423.9 269.6L424.4 270.1L424.9 270.5L425.4 270.9L425.9 271.4L426.3 271.8L426.8 272.2L427.3 272.6L427.8 273.1L428.3 273.5L428.8 273.9L429.3 274.3L429.8 274.8L430.3 275.2L430.8 275.6L431.3 276.0L431.8 276.5L432.3 276.9L432.8 277.3L433.3 277.8L433.8 278.2L434.3 278.7L434.8 279.1L435.3 279.6L435.7 280.1L436.2 280.6L436.7 281.0L437.2 281.5L437.7 282.0L438.2 282.5L438.7 282.9L439.2 283.4L439.7 283.8L440.2 284.3L440.7 284.7L441.2 285.0L441.8 285.4L442.3 285.7L442.9 286.0L443.4 286.3L444.0 286.5L444.6 286.7L445.2 286.8L445.8 286.9L446.4 287.0L447.0 286.9L447.7 286.9L448.3 286.7L448.9 286.5L449.5 286.1L450.0 285.7L450.5 285.1L450.9 284.4L451.3 283.7L451.6 283.0L452.0 282.3L452.4 281.8L452.8 281.3L453.2 281.1L453.6 281.0L454.1 281.1L454.5 281.4L455.0 281.8L455.4 282.3L455.9 282.8L456.3 283.2L456.8 283.7L457.3 284.2L457.7 284.7L458.2 285.2L458.6 285.6L459.1 286.1L459.5 286.6L460.0 287.1L460.5 287.5L460.9 288.0L461.4 288.5L461.8 289.0L462.3 289.4L462.7 289.9L463.2 290.4L463.6 290.9L464.1 291.3L464.6 291.8L465.0 292.3L465.5 292.7L465.9 293.2L466.4 293.7L466.9 294.1L467.3 294.6L467.8 295.1L468.2 295.5L468.7 296.0L469.2 296.4L469.6 296.9L470.1 297.4L470.5 297.8L471.0 298.3L471.5 298.7L471.9 299.2L472.4 299.6L472.9 300.1L473.3 300.5L473.8 301.0L474.3 301.5L474.7 301.9L475.2 302.4L475.7 302.8L476.2 303.2L476.6 303.7L477.1 304.1L477.6 304.6L478.1 305.0L478.5 305.5L479.0 305.9L479.5 306.4L480.0 306.8L480.4 307.2L480.9 307.7L481.4 308.1L481.9 308.6L482.4 309.0L482.9 309.4L483.3 309.9L483.8 310.3L484.3 310.7L484.8 311.2L485.3 311.6L485.8 312.0L486.3 312.5L486.8 312.9L487.2 313.3L487.7 313.7L488.2 314.2L488.7 314.6L489.2 315.0L489.7 315.5L490.2 315.9L490.7 316.3L491.2 316.7L491.7 317.2L492.2 317.6L492.7 318.0L493.2 318.4L493.7 318.9L494.2 319.3L494.7 319.7L495.2 320.1L495.7 320.5L496.3 321.0L496.8 321.4L497.3 321.8L497.8 322.2L498.3 322.6L498.8 323.0L499.4 323.4L499.9 323.8L500.4 324.2L500.9 324.6L501.5 324.9L502.0 325.3L502.6 325.6L503.1 326.0L503.7 326.3L504.3 326.6L504.8 326.9L505.4 327.2L506.0 327.5L506.6 327.7L507.2 328.0L507.8 328.2L508.4 328.4L509.0 328.6L509.6 328.7L510.3 328.9L510.9 329.0L511.6 329.1L512.2 329.2L512.9 329.2L513.5 329.2L514.2 329.2L514.8 329.1L515.5 329.0L516.1 328.8L516.8 328.6L517.4 328.3L518.0 328.0L518.6 327.7L519.2 327.3L519.8 327.0L520.4 326.7L521.0 326.4L521.5 326.3L522.1 326.3L522.6 326.4L523.2 326.6L523.7 327.0L524.2 327.5L524.6 328.0L525.1 328.5L525.5 329.1L525.8 329.7L526.2 330.2L526.5 330.8L526.8 331.4L527.1 332.0L527.4 332.6L527.6 333.2L527.9 333.8L528.1 334.4L528.3 335.0L528.6 335.6L528.8 336.2L529.1 336.8L529.3 337.4L529.6 338.0L529.8 338.6L530.1 339.2L530.4 339.8L530.6 340.4L530.9 341.0L531.2 341.6L531.5 342.2L531.7 342.8L532.0 343.4L532.3 344.0L532.5 344.6L532.8 345.2L533.0 345.8L533.3 346.4L533.6 347.0L533.8 347.6L534.0 348.2L534.3 348.8L534.5 349.4L534.7 350.0L534.9 350.6L535.2 351.2L535.4 351.9L535.6 352.5L535.7 353.1L535.9 353.7L536.1 354.4L536.3 355.0L536.4 355.6L536.6 356.3L536.7 356.9L536.9 357.5L537.0 358.2L537.1 358.8L537.3 359.5L537.4 360.1L537.5 360.7L537.6 361.4L537.7 362.0L537.8 362.7L537.9 363.3L538.0 364.0L538.1 364.6L538.2 365.3L538.3 365.9L538.4 366.6L538.5 367.2L538.5 367.9L538.6 368.5L538.7 369.2L538.8 369.8L538.8 370.5L538.9 371.1L539.0 371.8L539.0 372.4L539.1 373.1L539.2 373.7L539.2 374.4L539.3 375.0" fill="none" stroke="#20b16a" stroke-width="2.4" stroke-linejoin="round" stroke-linecap="butt"/>
<text transform="matrix(1.0453 0 0 1 42.63 24.00)" font-family="'Liberation Sans', sans-serif" font-size="22.24" fill="#231f20" stroke="#231f20" stroke-width="0.18">10</text>
<text transform="matrix(0.9000 0 0 1 67.62 15.50)" font-family="'Liberation Sans', sans-serif" font-size="19.19" fill="#231f20" stroke="#231f20" stroke-width="0.18">1</text>
<text transform="matrix(1.0453 0 0 1 42.63 83.30)" font-family="'Liberation Sans', sans-serif" font-size="22.24" fill="#231f20" stroke="#231f20" stroke-width="0.18">10</text>
<text transform="matrix(0.9576 0 0 1 67.88 75.10)" font-family="'Liberation Sans', sans-serif" font-size="19.19" fill="#231f20" stroke="#231f20" stroke-width="0.18">0</text>
<text transform="matrix(1.0453 0 0 1 42.63 144.00)" font-family="'Liberation Sans', sans-serif" font-size="22.24" fill="#231f20" stroke="#231f20" stroke-width="0.18">10</text>
<text transform="matrix(0.9361 0 0 1 67.81 134.90)" font-family="'Liberation Sans', sans-serif" font-size="19.19" fill="#231f20" stroke="#231f20" stroke-width="0.18">-</text>
<text transform="matrix(0.9000 0 0 1 73.72 135.80)" font-family="'Liberation Sans', sans-serif" font-size="19.19" fill="#231f20" stroke="#231f20" stroke-width="0.18">1</text>
<text transform="matrix(1.0453 0 0 1 42.63 207.80)" font-family="'Liberation Sans', sans-serif" font-size="22.24" fill="#231f20" stroke="#231f20" stroke-width="0.18">10</text>
<text transform="matrix(0.9361 0 0 1 67.81 198.50)" font-family="'Liberation Sans', sans-serif" font-size="19.19" fill="#231f20" stroke="#231f20" stroke-width="0.18">-</text>
<text transform="matrix(1.0173 0 0 1 73.02 199.40)" font-family="'Liberation Sans', sans-serif" font-size="19.19" fill="#231f20" stroke="#231f20" stroke-width="0.18">2</text>
<text transform="matrix(1.0453 0 0 1 42.63 269.50)" font-family="'Liberation Sans', sans-serif" font-size="22.24" fill="#231f20" stroke="#231f20" stroke-width="0.18">10</text>
<text transform="matrix(0.9361 0 0 1 67.81 260.80)" font-family="'Liberation Sans', sans-serif" font-size="19.19" fill="#231f20" stroke="#231f20" stroke-width="0.18">-</text>
<text transform="matrix(0.9437 0 0 1 73.41 260.90)" font-family="'Liberation Sans', sans-serif" font-size="19.19" fill="#231f20" stroke="#231f20" stroke-width="0.18">3</text>
<text transform="matrix(1.0453 0 0 1 42.63 327.70)" font-family="'Liberation Sans', sans-serif" font-size="22.24" fill="#231f20" stroke="#231f20" stroke-width="0.18">10</text>
<text transform="matrix(0.9361 0 0 1 67.81 320.00)" font-family="'Liberation Sans', sans-serif" font-size="19.19" fill="#231f20" stroke="#231f20" stroke-width="0.18">-</text>
<text transform="matrix(0.9805 0 0 1 73.19 320.10)" font-family="'Liberation Sans', sans-serif" font-size="19.19" fill="#231f20" stroke="#231f20" stroke-width="0.18">4</text>
<text transform="matrix(1.0453 0 0 1 42.63 387.80)" font-family="'Liberation Sans', sans-serif" font-size="22.24" fill="#231f20" stroke="#231f20" stroke-width="0.18">10</text>
<text transform="matrix(0.9361 0 0 1 67.81 379.20)" font-family="'Liberation Sans', sans-serif" font-size="19.19" fill="#231f20" stroke="#231f20" stroke-width="0.18">-</text>
<text transform="matrix(0.9107 0 0 1 73.60 379.70)" font-family="'Liberation Sans', sans-serif" font-size="19.19" fill="#231f20" stroke="#231f20" stroke-width="0.18">5</text>
<text transform="matrix(0.9020 0 0 1 316.31 59.70)" font-family="'Liberation Sans', sans-serif" font-size="20.20" fill="#231f20" stroke="#231f20" stroke-width="0.18">Energy</text>
<text transform="matrix(1.0014 0 0 1 379.35 59.70)" font-family="'Liberation Sans', sans-serif" font-size="20.20" fill="#231f20" stroke="#231f20" stroke-width="0.18">distribution</text>
<text transform="matrix(1.0003 0 0 1 481.92 59.70)" font-family="'Liberation Sans', sans-serif" font-size="20.20" fill="#231f20" stroke="#231f20" stroke-width="0.18">function</text>
<text transform="matrix(0.9813 0 0 1 72.47 407.90)" font-family="'Liberation Sans', sans-serif" font-size="21.80" fill="#231f20" stroke="#231f20" stroke-width="0.18">1.0</text>
<text transform="matrix(1.0433 0 0 1 378.47 407.90)" font-family="'Liberation Sans', sans-serif" font-size="21.80" fill="#231f20" stroke="#231f20" stroke-width="0.18">10</text>
<text transform="matrix(1.0768 0 0 1 187.69 408.00)" font-family="'Liberation Serif', serif" font-size="23.66" fill="#231f20" stroke="#231f20" stroke-width="0.18">Γ</text>
<text transform="matrix(0.9922 0 0 1 219.11 407.40)" font-family="'Liberation Sans', sans-serif" font-size="22.53" fill="#231f20" stroke="#231f20" stroke-width="0.18">(Energy/mc</text>
<text transform="matrix(1.0409 0 0 1 336.02 399.70)" font-family="'Liberation Sans', sans-serif" font-size="18.75" fill="#231f20" stroke="#231f20" stroke-width="0.18">2</text>
<text transform="matrix(0.9345 0 0 1 348.19 407.40)" font-family="'Liberation Sans', sans-serif" font-size="22.53" fill="#231f20" stroke="#231f20" stroke-width="0.18">)</text>
<text transform="matrix(0 -1.0315 1 0 24.50 217.55)" font-family="'Liberation Sans', sans-serif" font-size="22.48" fill="#231f20" stroke="#231f20" stroke-width="0.18">log</text>
<text transform="matrix(0 -1.0068 1 0 24.50 181.02)" font-family="'Liberation Sans', sans-serif" font-size="22.48" fill="#231f20" stroke="#231f20" stroke-width="0.18">f(</text>
<text transform="matrix(0 -1.0404 1 0 25.00 167.60)" font-family="'Liberation Serif', serif" font-size="24.12" fill="#231f20" stroke="#231f20" stroke-width="0.18">Γ</text>
<text transform="matrix(0 -0.6354 1 0 24.50 152.67)" font-family="'Liberation Sans', sans-serif" font-size="22.48" fill="#231f20" stroke="#231f20" stroke-width="0.18">)</text>
<text transform="matrix(1.2890 0 0 1 222.88 222.50)" font-family="'Liberation Sans', sans-serif" font-size="21.52" fill="#231f20" stroke="#231f20" stroke-width="0.18">t</text>
<text transform="matrix(1.1016 0 0 1 231.06 228.60)" font-family="'Liberation Sans', sans-serif" font-size="14.97" fill="#231f20" stroke="#231f20" stroke-width="0.18">0</text>
<text transform="matrix(1.2890 0 0 1 365.68 290.80)" font-family="'Liberation Sans', sans-serif" font-size="21.52" fill="#231f20" stroke="#231f20" stroke-width="0.18">t</text>
<text transform="matrix(1.0254 0 0 1 374.53 297.30)" font-family="'Liberation Sans', sans-serif" font-size="14.97" fill="#231f20" stroke="#231f20" stroke-width="0.18">2</text>
<text transform="matrix(1.2526 0 0 1 452.50 327.80)" font-family="'Liberation Sans', sans-serif" font-size="21.52" fill="#231f20" stroke="#231f20" stroke-width="0.18">t</text>
<text transform="matrix(0.9141 0 0 1 461.18 334.30)" font-family="'Liberation Sans', sans-serif" font-size="14.97" fill="#231f20" stroke="#231f20" stroke-width="0.18">3</text>
<text transform="matrix(1.2708 0 0 1 504.79 314.30)" font-family="'Liberation Sans', sans-serif" font-size="21.52" fill="#231f20" stroke="#231f20" stroke-width="0.18">t</text>
<text transform="matrix(0.9920 0 0 1 513.37 320.50)" font-family="'Liberation Sans', sans-serif" font-size="14.97" fill="#231f20" stroke="#231f20" stroke-width="0.18">4</text>
</svg></body></html>
